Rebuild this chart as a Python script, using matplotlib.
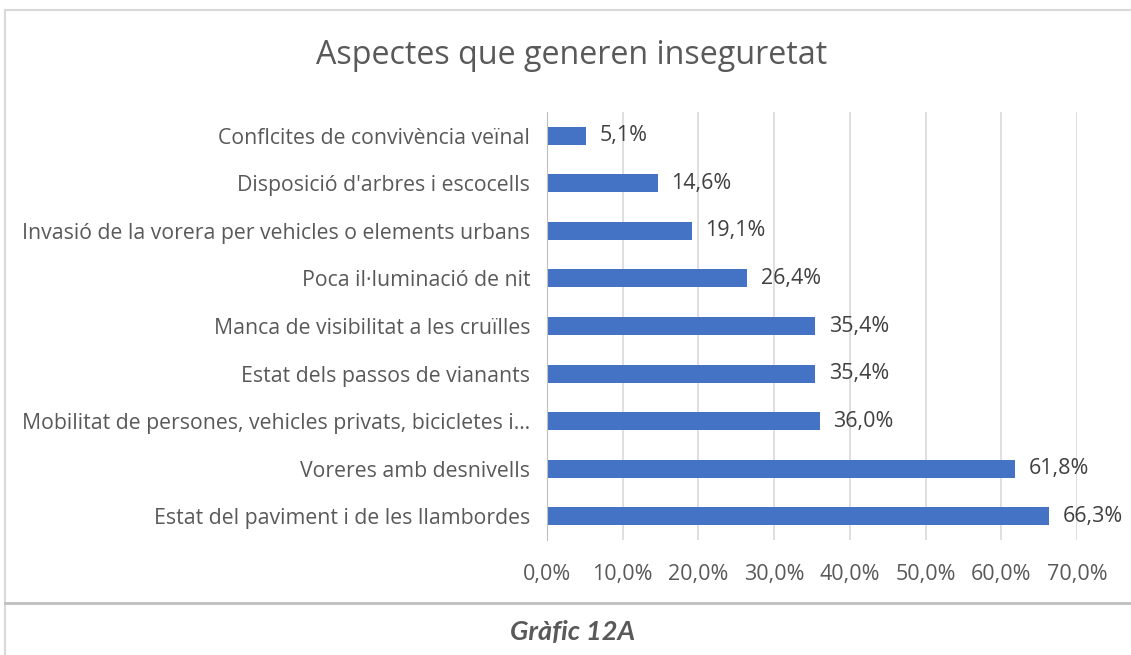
import matplotlib.pyplot as plt
from matplotlib.lines import Line2D

plt.rcParams['font.family'] = ['Open Sans', 'DejaVu Sans']

# data, top to bottom as in the chart
labels = [
    "Conflcites de convivència veïnal",
    "Disposició d'arbres i escocells",
    "Invasió de la vorera per vehicles o elements urbans",
    "Poca il·luminació de nit",
    "Manca de visibilitat a les cruïlles",
    "Estat dels passos de vianants",
    "Mobilitat de persones, vehicles privats, bicicletes i…",
    "Voreres amb desnivells",
    "Estat del paviment i de les llambordes",
]
values = [5.1, 14.6, 19.1, 26.4, 35.4, 35.4, 36.0, 61.8, 66.3]
ticks = [0, 10, 20, 30, 40, 50, 60, 70]

W, H = 1131, 655
fig = plt.figure(figsize=(W / 100, H / 100), dpi=100)

ax = fig.add_axes([547 / W, 1 - 540 / H, 530 / W, 428 / H])
ypos = list(range(len(labels)))[::-1]
ax.barh(ypos, values, height=0.38, color='#4472C4', zorder=3)
for y, v in zip(ypos, values):
    ax.annotate(f"{v:.1f}%".replace('.', ','), (v, y), xytext=(10, 0), textcoords='offset points',
                va='center', ha='left', fontsize=15.5, color='#404040')

ax.set_xlim(0, 70)
ax.set_ylim(-0.5, len(labels) - 0.5)
ax.set_xticks(ticks)
ax.set_xticklabels([f"{t:.1f}%".replace('.', ',') for t in ticks])
ax.set_yticks(ypos)
ax.set_yticklabels(labels)
ax.tick_params(axis='x', length=0, labelsize=15.5, labelcolor='#595959', pad=17)
ax.tick_params(axis='y', length=0, labelsize=15.3, labelcolor='#595959', pad=12)
ax.grid(axis='x', color='#d9d9d9', linewidth=1.2, zorder=0)
for s in ['top', 'right', 'bottom']:
    ax.spines[s].set_visible(False)
ax.spines['left'].set_color('#bfbfbf')
ax.spines['left'].set_zorder(4)

fig.text(572 / W, 1 - 55 / H, "Aspectes que generen inseguretat", ha='center', va='center',
         fontsize=23.2, color='#595959')
fig.text(573 / W, 1 - 632 / H, "Gràfic 12A", ha='center', va='center',
         fontsize=19.5, color='#595959', fontweight='bold', fontstyle='italic', family='Lato')

# frame lines
fig.add_artist(Line2D([5 / W, 5 / W], [0, 1 - 10 / H], transform=fig.transFigure, color='#d9d9d9', lw=1.5))
fig.add_artist(Line2D([5 / W, 1], [1 - 10 / H, 1 - 10 / H], transform=fig.transFigure, color='#d9d9d9', lw=1.5))
fig.add_artist(Line2D([5 / W, 1], [1 - 603 / H, 1 - 603 / H], transform=fig.transFigure, color='#bfbfbf', lw=2))

fig.savefig('out.png', dpi=100, facecolor='white')
